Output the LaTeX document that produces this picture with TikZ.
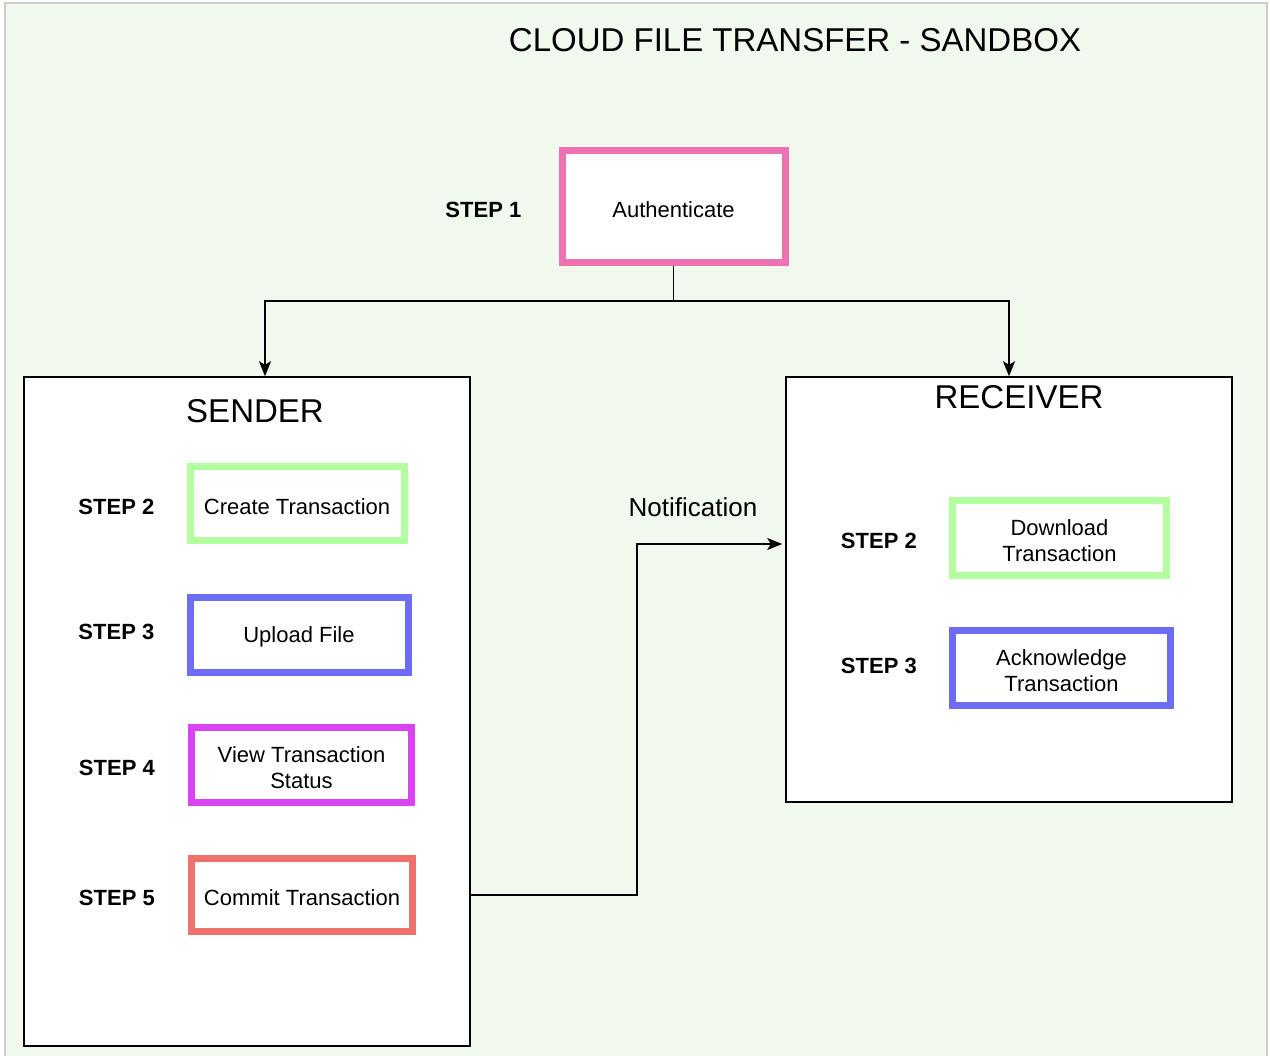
\documentclass[tikz,border=0pt]{standalone}
\usepackage{fontspec}
\setmainfont{Liberation Sans}
\usepackage{tikz}
\usetikzlibrary{positioning, calc, arrows.meta}
\definecolor{canvasbg}{HTML}{F1F8EE}
\definecolor{framegray}{HTML}{CCCCCC}
\definecolor{authpink}{HTML}{EE72B0}
\definecolor{stepgreen}{HTML}{B3FFA0}
\definecolor{stepblue}{HTML}{6C6CF5}
\definecolor{steppurple}{HTML}{D943F2}
\definecolor{stepsalmon}{HTML}{EF716B}

\begin{document}
\begin{tikzpicture}[x=1pt, y=-1pt,
    stepbox/.style={rectangle,
      draw=#1,
      line width=7pt,
      fill=white,
      inner sep=0pt,
      align=center,
      text height=21.5pt,
      font=\fontsize{22}{26}\selectfont},
    twolines/.style={text height=47.5pt},
    steplabel/.style={inner sep=0pt,
      text height=21.5pt,
      font=\bfseries\fontsize{22}{26}\selectfont},
    actor/.style={rectangle,
      draw=black,
      line width=1.5pt,
      fill=white,
      inner sep=0pt},
    actortitle/.style={inner sep=0pt,
      font=\fontsize{33}{40}\selectfont},
    flow/.style={line width=1.4pt,
      -{Stealth[length=15pt, width=12pt, inset=3.5pt]}}]

  \useasboundingbox (0,0) rectangle (1270,1056);
  \filldraw[fill=canvasbg, draw=framegray, line width=2.5pt] (5,3) rectangle (1267,1075);

  % TITLE

  \node[actortitle] (title) at (795,40) {CLOUD FILE TRANSFER - SANDBOX};

  % AUTHENTICATION

  \node[stepbox=authpink, 
    minimum width=223pt, 
    minimum height=112pt] (auth) at (673.5,206.5) {Authenticate};
  \node[steplabel, left=37pt of auth] (authstep) {STEP 1};

  % SENDER

  \node[actor, 
    minimum width=446pt, 
    minimum height=669pt] (sender) at (247,711.5) {};
  \node[actortitle] (sendertitle) at (255,411) {SENDER};

  \node[stepbox=stepgreen, 
    minimum width=214pt, 
    minimum height=74pt] (create) at (297,503.5) {Create Transaction};
  \node[stepbox=stepblue, 
    minimum width=218pt, 
    minimum height=75pt] (upload) at (299,634.5) {Upload File};
  \node[stepbox=steppurple, twolines, 
    minimum width=220pt, 
    minimum height=75pt] (status) at (301.5,764.5) {View Transaction\\Status};
  \node[stepbox=stepsalmon, 
    minimum width=221pt, 
    minimum height=73pt] (commit) at (302,895) {Commit Transaction};

  \node[steplabel, left=32pt of create] (createstep) {STEP 2};
  \node[steplabel, left=32pt of upload, yshift=6pt] (uploadstep) {STEP 3};
  \node[steplabel, left=33pt of status] (statusstep) {STEP 4};
  \node[steplabel, left=33pt of commit] (commitstep) {STEP 5};

  % RECEIVER

  \node[actor, 
    minimum width=446pt, 
    minimum height=425pt] (receiver) at (1009,589.5) {};
  \node[actortitle] (receivertitle) at (1019,397) {RECEIVER};

  \node[stepbox=stepgreen, twolines, 
    minimum width=214pt, 
    minimum height=75pt] (download) at (1059.5,538) {Download\\Transaction};
  \node[stepbox=stepblue, twolines, 
    minimum width=218pt, 
    minimum height=75pt] (ack) at (1061.5,668) {Acknowledge\\Transaction};

  \node[steplabel, left=32pt of download] (downloadstep) {STEP 2};
  \node[steplabel, left=32pt of ack, yshift=5pt] (ackstep) {STEP 3};

  % CONNECTORS

  \coordinate (fork) at ($(auth.south)+(0,35)$);
  \draw[line width=1.4pt] (auth.south) -- (fork);
  \draw[flow] (fork) -| ($(sender.north)+(18,0)$);
  \draw[flow] (fork) -| (receiver.north);

  \coordinate (notifyturn) at (637,544);
  \draw[flow, shorten >=3pt] (sender.east |- commit) 
  -| (notifyturn) 
  -- (notifyturn -| receiver.west);
  \node[font=\fontsize{26}{30}\selectfont] (notifylabel) at (693,507) {Notification};

\end{tikzpicture}
\end{document}
